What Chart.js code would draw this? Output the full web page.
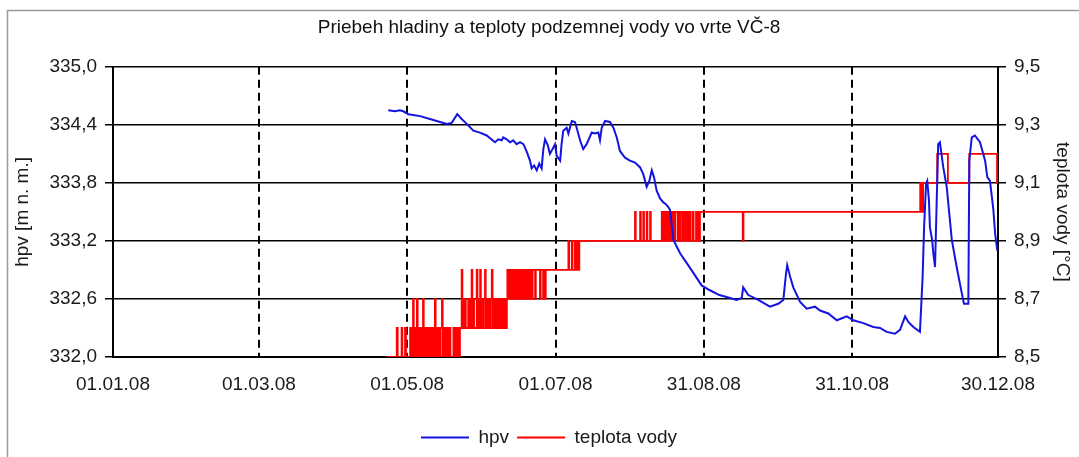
<!DOCTYPE html>
<html>
<head>
<meta charset="utf-8">
<script src="https://cdn.jsdelivr.net/npm/chart.js@4"></script>
<style>
  body { margin: 0; background: #fff; }
</style>
</head>
<body>
<canvas id="chart" width="1079" height="457"></canvas>
<script>
// x axis = day of year 2008 (0 = 01.01.08)
const tickDays = [0, 60, 121, 182, 243, 304, 364];
const tickLabels = ['01.01.08', '01.03.08', '01.05.08', '01.07.08', '31.08.08', '31.10.08', '30.12.08'];

// hladina podzemnej vody [m n. m.]  -> [day, hpv]
const hpvSeries = [
  [113.2, 334.55], [116.0, 334.54], [118.0, 334.55], [119.4, 334.54], [121.5, 334.51],
  [126.3, 334.49], [130.4, 334.46], [134.5, 334.43], [137.3, 334.41], [139.3, 334.42],
  [141.6, 334.51], [143.4, 334.46], [145.5, 334.41], [148.2, 334.34], [150.9, 334.32],
  [153.7, 334.29], [157.1, 334.22], [158.5, 334.25], [159.9, 334.24], [160.5, 334.27],
  [161.9, 334.25], [163.3, 334.22], [164.6, 334.24], [166.0, 334.20], [167.4, 334.22],
  [168.8, 334.20], [170.2, 334.12], [171.5, 334.03], [172.2, 333.95], [173.2, 333.98],
  [174.3, 333.93], [175.3, 334.00], [176.3, 333.95], [177.0, 334.15], [177.7, 334.25],
  [178.8, 334.19], [179.7, 334.10], [180.8, 334.15], [181.8, 334.20], [182.5, 334.08],
  [183.9, 334.03], [184.5, 334.20], [185.2, 334.34], [186.6, 334.37], [187.3, 334.31],
  [188.7, 334.44], [190.0, 334.43], [190.7, 334.37], [192.1, 334.24], [193.4, 334.15],
  [194.8, 334.20], [196.9, 334.32], [198.2, 334.31], [199.6, 334.32], [200.3, 334.24],
  [201.0, 334.37], [202.4, 334.44], [204.4, 334.43], [205.8, 334.37], [207.2, 334.27],
  [208.5, 334.13], [210.6, 334.06], [212.6, 334.03], [214.7, 334.01], [216.8, 333.96],
  [218.1, 333.89], [219.5, 333.76], [220.6, 333.82], [221.6, 333.93], [222.5, 333.86],
  [223.6, 333.72], [225.0, 333.64], [226.3, 333.60], [227.4, 333.58], [228.4, 333.55],
  [229.1, 333.52], [230.5, 333.21], [233.3, 333.07], [236.0, 332.97], [238.7, 332.87],
  [242.1, 332.74], [245.5, 332.69], [249.4, 332.64], [252.4, 332.62], [256.5, 332.59],
  [258.6, 332.61], [259.2, 332.72], [261.3, 332.64], [265.4, 332.59], [270.2, 332.52],
  [273.6, 332.55], [275.7, 332.59], [276.8, 332.86], [277.3, 332.95], [278.5, 332.83],
  [279.8, 332.72], [282.6, 332.57], [285.3, 332.50], [288.7, 332.52], [290.8, 332.48],
  [294.2, 332.45], [297.7, 332.38], [301.8, 332.42], [304.5, 332.38], [308.6, 332.35],
  [312.7, 332.31], [315.5, 332.30], [318.2, 332.26], [321.6, 332.24], [323.7, 332.28],
  [325.8, 332.42], [327.2, 332.36], [329.2, 332.31], [331.9, 332.26], [333.0, 332.83],
  [333.6, 333.34], [334.4, 333.79], [334.9, 333.82], [335.6, 333.62], [336.0, 333.34],
  [336.9, 333.21], [337.4, 333.07], [338.1, 332.93], [338.8, 333.62], [339.4, 334.20],
  [340.1, 334.22], [341.5, 333.96], [342.9, 333.76], [345.0, 333.21], [347.0, 332.93],
  [349.1, 332.66], [350.0, 332.55], [351.8, 332.55], [352.2, 334.03], [353.2, 334.27],
  [354.5, 334.29], [356.6, 334.22], [358.7, 334.03], [359.6, 333.86], [360.7, 333.82],
  [362.1, 333.52], [362.8, 333.28], [363.7, 333.10]
];

// teplota vody [°C] -> [day, value], value holds until next reading
const tempSeries = [
  [112.5, 8.5], [116.7, 8.6], [117.1, 8.5], [118.7, 8.6], [119.0, 8.5], [120.1, 8.6], [120.5, 8.5],
  [122.2, 8.6], [122.6, 8.5], [123.0, 8.6], [123.4, 8.7], [123.7, 8.5], [124.1, 8.6], [124.5, 8.5],
  [125.0, 8.7], [125.3, 8.5], [125.7, 8.6], [126.1, 8.5], [126.5, 8.6], [126.9, 8.5], [127.5, 8.7],
  [127.8, 8.5], [128.2, 8.6], [128.6, 8.5], [129.0, 8.6], [129.4, 8.5], [129.8, 8.6], [130.2, 8.5],
  [130.6, 8.6], [131.0, 8.5], [131.4, 8.6], [131.8, 8.5], [132.4, 8.7], [132.7, 8.5], [133.1, 8.6],
  [133.5, 8.5], [133.9, 8.6], [134.3, 8.5], [134.7, 8.6], [135.3, 8.7], [135.6, 8.5], [136.0, 8.6],
  [136.4, 8.5], [136.8, 8.6], [137.2, 8.5], [137.6, 8.6], [138.0, 8.5], [138.4, 8.6], [138.8, 8.5],
  [140.0, 8.6], [140.3, 8.5], [141.0, 8.6], [141.3, 8.5], [141.9, 8.6], [142.2, 8.5], [142.7, 8.6],
  [143.4, 8.8], [143.7, 8.6], [144.1, 8.7], [144.4, 8.6], [144.8, 8.7], [145.1, 8.6], [146.1, 8.7],
  [146.4, 8.6], [146.8, 8.7], [147.1, 8.6], [147.5, 8.8], [147.8, 8.6], [148.2, 8.7], [148.5, 8.6],
  [149.6, 8.8], [149.9, 8.6], [150.3, 8.7], [150.7, 8.6], [151.0, 8.8], [151.3, 8.6], [151.7, 8.7],
  [152.1, 8.6], [152.5, 8.7], [153.0, 8.8], [153.3, 8.6], [153.7, 8.7], [154.1, 8.6], [154.5, 8.7],
  [154.9, 8.6], [155.3, 8.7], [155.8, 8.8], [156.1, 8.6], [156.5, 8.7], [156.9, 8.6], [157.3, 8.7],
  [157.7, 8.6], [158.1, 8.7], [158.5, 8.6], [158.9, 8.7], [159.3, 8.6], [159.7, 8.7], [160.1, 8.6],
  [160.5, 8.7], [160.9, 8.6], [161.3, 8.7], [161.7, 8.6], [162.0, 8.7], [162.2, 8.8], [162.6, 8.7],
  [163.0, 8.8], [163.4, 8.7], [163.8, 8.8], [164.2, 8.7], [164.6, 8.8], [165.0, 8.7], [165.4, 8.8],
  [165.8, 8.7], [166.2, 8.8], [166.6, 8.7], [167.0, 8.8], [167.4, 8.7], [167.8, 8.8], [168.2, 8.7],
  [168.6, 8.8], [169.0, 8.7], [169.4, 8.8], [169.8, 8.7], [170.2, 8.8], [170.6, 8.7], [171.0, 8.8],
  [171.4, 8.7], [171.8, 8.8], [172.2, 8.7], [172.6, 8.8], [173.6, 8.7], [173.9, 8.8], [175.6, 8.7],
  [175.9, 8.8], [176.9, 8.7], [177.2, 8.8], [177.7, 8.7], [178.0, 8.8],
  [187.3, 8.9], [187.6, 8.8], [188.7, 8.9], [189.0, 8.8], [190.0, 8.9], [190.3, 8.8], [191.0, 8.9],
  [191.3, 8.8], [191.8, 8.9],
  [214.7, 9.0], [215.0, 8.9], [216.8, 9.0], [217.1, 8.9], [218.1, 9.0], [218.4, 8.9], [219.5, 9.0],
  [219.8, 8.9], [220.9, 9.0], [221.2, 8.9],
  [225.7, 9.0], [226.1, 8.9], [226.5, 9.0], [226.9, 8.9], [227.3, 9.0], [227.7, 8.9], [228.1, 9.0],
  [228.5, 8.9], [228.9, 9.0], [229.3, 8.9], [229.7, 9.0], [230.1, 8.9], [230.5, 9.0], [230.9, 8.9],
  [231.3, 9.0], [232.3, 8.9], [232.7, 9.0], [233.1, 8.9], [233.5, 9.0], [234.3, 8.9], [234.7, 9.0],
  [235.1, 8.9], [235.5, 9.0], [235.9, 8.9], [236.3, 9.0], [236.7, 8.9], [237.1, 9.0], [237.5, 8.9],
  [238.4, 9.0], [238.8, 8.9], [239.8, 9.0], [240.2, 8.9], [240.6, 9.0], [241.0, 8.9], [241.4, 9.0],
  [259.0, 8.9], [259.3, 9.0],
  [332.0, 9.1], [332.3, 9.0], [332.6, 9.1], [332.9, 9.0], [333.2, 9.1],
  [339.0, 9.2], [343.4, 9.1], [352.2, 9.2], [363.6, 9.1], [364.0, 9.1]
];

const fmt = v => v.toFixed(1).replace('.', ',');

// white background + grey frame around the whole figure
const framePlugin = {
  id: 'frame',
  beforeDraw(chart) {
    const ctx = chart.ctx;
    ctx.save();
    ctx.fillStyle = '#fff';
    ctx.fillRect(0, 0, chart.width, chart.height);
    ctx.strokeStyle = '#9a9a9a';
    ctx.lineWidth = 1.5;
    ctx.strokeRect(7.5, 10.5, chart.width + 10, chart.height + 10);
    ctx.restore();
  }
};

Chart.defaults.font.family = "'Liberation Sans', Arial, sans-serif";
Chart.defaults.font.size = 19;
Chart.defaults.color = '#1a1a1a';

new Chart(document.getElementById('chart'), {
  type: 'line',
  data: {
    datasets: [{
      label: 'hpv',
      data: hpvSeries.map(p => ({ x: p[0], y: p[1] })),
      borderColor: '#1414e0',
      backgroundColor: '#1414e0',
      borderWidth: 2,
      pointRadius: 0,
      pointStyle: 'line',
      tension: 0,
      yAxisID: 'y'
    }, {
      label: 'teplota vody',
      data: tempSeries.map(p => ({ x: p[0], y: p[1] })),
      borderColor: '#ff0000',
      backgroundColor: '#ff0000',
      borderWidth: 1.8,
      pointRadius: 0,
      pointStyle: 'line',
      stepped: 'before',
      yAxisID: 'y1'
    }]
  },
  options: {
    responsive: false,
    animation: false,
    events: [],
    layout: { padding: { left: 19, right: 0, top: 10, bottom: 0 } },
    scales: {
      x: {
        type: 'linear',
        min: 0,
        max: 364,
        afterBuildTicks: s => { s.ticks = tickDays.map(v => ({ value: v })); },
        afterFit: s => { s.height = 457 - 357 - (s.chart.legend ? s.chart.legend.height : 0); },
        ticks: {
          autoSkip: false,
          maxRotation: 0,
          padding: 16,
          callback: (v, i) => tickLabels[i]
        },
        grid: { color: '#000', lineWidth: 2, drawTicks: false },
        border: { color: '#000', width: 2, dash: [8, 5] }
      },
      y: {
        position: 'left',
        min: 332,
        max: 335,
        afterBuildTicks: s => {
          s.ticks = [332, 332.6, 333.2, 333.8, 334.4, 335].map(v => ({ value: v }));
        },
        afterFit: s => { s.width = 94; },
        ticks: { padding: 8, callback: v => fmt(v) },
        grid: { color: '#000', lineWidth: 1.5, tickLength: 8 },
        border: { color: '#000', width: 2 },
        title: { display: true, text: 'hpv [m n. m.]', padding: { top: -8, bottom: 0 } }
      },
      y1: {
        position: 'right',
        min: 8.5,
        max: 9.5,
        afterBuildTicks: s => {
          s.ticks = [8.5, 8.7, 8.9, 9.1, 9.3, 9.5].map(v => ({ value: v }));
        },
        afterFit: s => { s.width = 81; },
        ticks: { padding: 8, callback: v => fmt(v) },
        grid: { drawOnChartArea: false, color: '#000', lineWidth: 1.5, tickLength: 8 },
        border: { color: '#000', width: 2 },
        title: { display: true, text: 'teplota vody [°C]', padding: { top: 5, bottom: 0 } }
      }
    },
    plugins: {
      title: {
        display: true,
        text: 'Priebeh hladiny a teploty podzemnej vody vo vrte VČ-8',
        color: '#111',
        font: { size: 19, weight: 'normal' },
        padding: { top: 6, bottom: 28 }
      },
      legend: {
        position: 'bottom',
        labels: {
          usePointStyle: true,
          pointStyle: 'line',
          pointStyleWidth: 48,
          padding: 8,
          color: '#1a1a1a'
        }
      },
      tooltip: { enabled: false }
    }
  },
  plugins: [framePlugin]
});
</script>
</body>
</html>
